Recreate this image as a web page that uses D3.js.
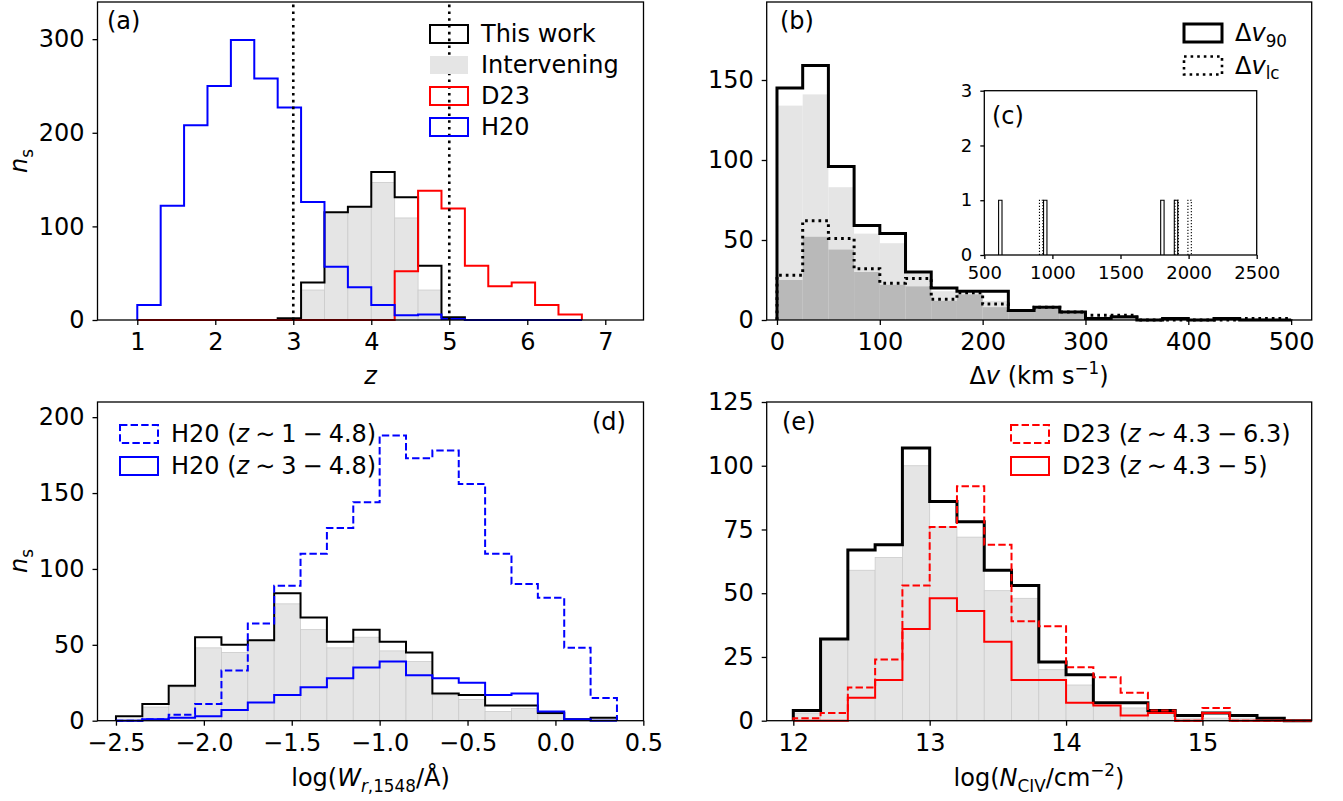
<!DOCTYPE html>
<html>
<head>
<meta charset="utf-8">
<script src="https://cdn.jsdelivr.net/npm/d3@7"></script>
<style>
  body { margin: 0; background: #fff; }
  svg text { font-family: "DejaVu Sans", sans-serif; fill: #000; }
</style>
</head>
<body>
<svg id="fig" width="1343" height="801"></svg>
<script>
// ---- (a) redshift distributions ----
const zEdges = [1.0, 1.3, 1.6, 1.9, 2.2, 2.5, 2.8, 3.1, 3.4, 3.7, 4.0, 4.3, 4.6, 4.9, 5.2, 5.5, 5.8, 6.1, 6.4, 6.7];
const zThisWork = [0, 0, 0, 0, 0, 0, 2, 40, 115, 121, 158, 131, 58, 3, 0, 0, 0, 0, 0];
const zInterv   = [0, 0, 0, 0, 0, 0, 1, 32, 115, 121, 147, 109, 32, 1, 0, 0, 0, 0, 0];
const zD23      = [0, 0, 0, 0, 0, 0, 0, 0, 0, 0, 0, 52, 138, 119, 58, 36, 40, 16, 6];
const zH20      = [16, 122, 208, 250, 299, 258, 227, 126, 57, 35, 16, 5, 6, 1, 0, 0, 0, 0, 0];
const zCuts = [3, 5];

// ---- (b) velocity widths ----
const dvEdges = [0, 25, 50, 75, 100, 125, 150, 175, 200, 225, 250, 275, 300, 325, 350, 375, 400, 425, 450, 475, 500];
const dv90      = [145, 159, 96, 59, 54, 30, 20, 18, 18, 6, 8, 5, 1, 2, 0, 1, 0, 1, 0, 0];
const dvLc      = [28, 62, 51, 32, 23, 26, 13, 17, 10, 6, 8, 5, 3, 3, 0, 0, 0, 0, 1, 1];
const dv90Int   = [134, 141, 83, 54, 48, 29, 18, 17, 12, 5, 7, 4, 1, 1, 0, 1, 0, 1, 0, 0];
const dvLcInt   = [25, 52, 44, 30, 22, 21, 12, 16, 8, 5, 7, 4, 2, 2, 0, 0, 0, 0, 1, 0];

// ---- (c) inset, wide systems (left bin edges, width 25) ----
const insetBinWidth = 25;
const inset90Left = [605, 935, 1795, 1895];
const inset90Count = [1, 1, 1, 1];
const insetLcLeft = [905, 1900, 1995];
const insetLcCount = [1, 1, 1];

// ---- (d) equivalent widths ----
const wEdges = [-2.5, -2.35, -2.2, -2.05, -1.9, -1.75, -1.6, -1.45, -1.3, -1.15, -1.0, -0.85, -0.7, -0.55, -0.4, -0.25, -0.1, 0.05, 0.2, 0.35];
const wThisWork = [3, 11, 23, 55, 50, 53, 84, 68, 52, 60, 52, 45, 18, 17, 10, 10, 5, 1, 2];
const wInterv   = [1, 9, 22, 48, 45, 53, 77, 60, 48, 55, 46, 39, 17, 14, 6, 8, 4, 1, 1];
const wH20all   = [0, 1, 4, 11, 33, 64, 89, 110, 127, 144, 188, 173, 178, 156, 110, 90, 81, 48, 15];
const wH20hi    = [0, 1, 2, 3, 7, 12, 17, 22, 28, 35, 39, 30, 28, 25, 17, 18, 6, 1, 0];

// ---- (e) column densities ----
const nEdges = [12.0, 12.2, 12.4, 12.6, 12.8, 13.0, 13.2, 13.4, 13.6, 13.8, 14.0, 14.2, 14.4, 14.6, 14.8, 15.0, 15.2, 15.4, 15.6, 15.8];
const nThisWork = [4, 32, 67, 69, 107, 86, 78, 59, 53, 23, 18, 7, 7, 4, 2, 3, 2, 1, 0];
const nInterv   = [3, 32, 59, 64, 100, 76, 72, 51, 48, 20, 14, 6, 5, 3, 1, 1, 1, 0, 0];
const nD23all   = [1, 3, 13, 24, 53, 76, 92, 69, 39, 37, 21, 17, 11, 4, 0, 5, 0, 0, 0];
const nD23lo    = [0, 0, 9, 16, 36, 48, 43, 31, 16, 16, 7, 6, 2, 3, 0, 3, 0, 0, 0];

// ---- tick values ----
const ticksAx = [1, 2, 3, 4, 5, 6, 7], ticksAy = [0, 100, 200, 300];
const ticksBx = [0, 100, 200, 300, 400, 500], ticksBy = [0, 50, 100, 150];
const ticksCx = [500, 1000, 1500, 2000, 2500], ticksCy = [0, 1, 2, 3];
const ticksDx = [-2.5, -2.0, -1.5, -1.0, -0.5, 0.0, 0.5], ticksDy = [0, 50, 100, 150, 200];
const ticksEx = [12, 13, 14, 15], ticksEy = [0, 25, 50, 75, 100, 125];

const BLUE = "#0000ff", RED = "#ff0000", LGRAY = "#e5e5e5", DGRAY = "#b9b9b9";
const FS = 24;
const SP = "\u2005"; // narrow math spacing
const svg = d3.select("#fig");

function panel(box, xDom, yDom) {
    const x = d3.scaleLinear().domain(xDom).range([box.l, box.r]);
    const y = d3.scaleLinear().domain(yDom).range([box.b, box.t]);
    const g = svg.append("g");
    return { g, x, y, box };
}

function stepPath(p, edges, vals) {
    const pts = [[edges[0], 0]];
    vals.forEach((v, i) => { pts.push([edges[i], v]); pts.push([edges[i + 1], v]); });
    pts.push([edges[edges.length - 1], 0]);
    return d3.line().x(d => p.x(d[0])).y(d => p.y(d[1]))(pts);
}

function step(p, edges, vals, color, width, dash) {
    p.g.append("path")
        .attr("d", stepPath(p, edges, vals))
        .attr("fill", "none")
        .attr("stroke", color)
        .attr("stroke-width", width)
        .attr("stroke-linejoin", "miter")
        .attr("stroke-dasharray", dash || null);
}

function bars(p, edges, vals, fill, edgeColor) {
    p.g.append("g").selectAll("rect")
        .data(vals.map((v, i) => ({ v, lo: edges[i], hi: edges[i + 1] })).filter(d => d.v > 0))
        .enter().append("rect")
        .attr("x", d => p.x(d.lo))
        .attr("width", d => p.x(d.hi) - p.x(d.lo))
        .attr("y", d => p.y(d.v))
        .attr("height", d => p.y(0) - p.y(d.v))
        .attr("fill", fill)
        .attr("stroke", edgeColor || "none")
        .attr("stroke-width", 0.8);
}

function axes(p, xt, yt, fmtX, fmtY, fs, tick, pad) {
    p.g.append("rect")
        .attr("x", p.box.l).attr("y", p.box.t)
        .attr("width", p.box.r - p.box.l).attr("height", p.box.b - p.box.t)
        .attr("fill", "none").attr("stroke", "#000").attr("stroke-width", 1.3);
    const ax = p.g.append("g").attr("transform", `translate(0,${p.box.b})`)
        .call(d3.axisBottom(p.x).tickValues(xt).tickFormat(fmtX).tickSize(tick).tickPadding(pad));
    const ay = p.g.append("g").attr("transform", `translate(${p.box.l},0)`)
        .call(d3.axisLeft(p.y).tickValues(yt).tickFormat(fmtY).tickSize(tick).tickPadding(pad));
    [ax, ay].forEach(a => {
        a.attr("font-size", fs).attr("font-family", "DejaVu Sans");
        a.select(".domain").remove();
        a.selectAll(".tick line").attr("stroke", "#000").attr("stroke-width", 1.3);
        a.selectAll(".tick text").attr("fill", "#000");
    });
    return { ax, ay };
}

// text with italic / sub / sup pieces
function rich(sel, parts, fs) {
    let shift = 0;
    parts.forEach(q => {
        let target = 0, size = fs;
        if (q.sub) { target = fs * 0.24; size = fs * 0.7; }
        if (q.sup) { target = -fs * 0.4; size = fs * 0.7; }
        const s = sel.append("tspan").text(q.t)
            .attr("dy", target - shift)
            .attr("font-size", size);
        if (q.i) s.attr("font-style", "italic");
        shift = target;
    });
    return sel;
}

function label(x, y, parts, opts = {}) {
    const t = svg.append("text")
        .attr("x", x).attr("y", y)
        .attr("font-size", FS)
        .attr("text-anchor", opts.anchor || "start");
    if (opts.rotate) t.attr("transform", `rotate(-90,${x},${y})`);
    return rich(t, parts, FS);
}

function legend(x0, y0, gap, entries) {
    const g = svg.append("g");
    entries.forEach((e, i) => {
        const y = y0 + i * gap;
        g.append("rect")
            .attr("x", x0).attr("y", y).attr("width", 38).attr("height", 18)
            .attr("fill", e.fill || "none")
            .attr("stroke", e.stroke || "none")
            .attr("stroke-width", e.width || 0)
            .attr("stroke-dasharray", e.dash || null);
        const t = g.append("text")
            .attr("x", x0 + 51).attr("y", y + 17)
            .attr("font-size", FS);
        rich(t, e.text, FS);
    });
}

const fmtInt = d3.format("d");

// ================= (a) =================
const pA = panel({ l: 97.5, r: 643.5, t: 2, b: 320 }, [0.49, 7.49], [0, 339.7]);
bars(pA, zEdges, zInterv, LGRAY, "#cbcbcb");
step(pA, zEdges, zThisWork, "#000", 2);
step(pA, zEdges, zD23, RED, 2);
step(pA, zEdges, zH20, BLUE, 2);
pA.g.selectAll(".cut").data(zCuts).enter().append("line")
    .attr("x1", d => pA.x(d)).attr("x2", d => pA.x(d))
    .attr("y1", pA.y(0)).attr("y2", pA.box.t)
    .attr("stroke", "#000").attr("stroke-width", 2.6).attr("stroke-dasharray", "2.6,4.2");
axes(pA, ticksAx, ticksAy, fmtInt, fmtInt, FS, 5, 8);
label(107, 29, [{ t: "(a)" }]);
legend(430, 25, 31, [
    { stroke: "#000", width: 2, text: [{ t: "This work" }] },
    { fill: LGRAY, text: [{ t: "Intervening" }] },
    { stroke: RED, width: 2, text: [{ t: "D23" }] },
    { stroke: BLUE, width: 2, text: [{ t: "H20" }] }
]);
label(370.5, 384, [{ t: "z", i: 1 }], { anchor: "middle" });
label(27, 161, [{ t: "n", i: 1 }, { t: "s", sub: 1 }], { anchor: "middle", rotate: 1 });

// ================= (b) =================
const pB = panel({ l: 766.7, r: 1311.7, t: 2, b: 320 }, [-10, 520], [0, 198.75]);
bars(pB, dvEdges, dv90Int, LGRAY);
bars(pB, dvEdges, dvLcInt, DGRAY);
step(pB, dvEdges, dvLc, "#000", 3, "2.7,4");
step(pB, dvEdges, dv90, "#000", 3);
axes(pB, ticksBx, ticksBy, fmtInt, fmtInt, FS, 5, 8);
label(780, 29, [{ t: "(b)" }]);
legend(1184, 24, 32.5, [
    { stroke: "#000", width: 3, text: [{ t: "Δ" }, { t: "v", i: 1 }, { t: "90", sub: 1 }] },
    { stroke: "#000", width: 2.6, dash: "2.6,4", text: [{ t: "Δ" }, { t: "v", i: 1 }, { t: "lc", sub: 1 }] }
]);
label(1039, 384, [{ t: "Δ" }, { t: "v", i: 1 }, { t: " (km s" }, { t: "−1", sup: 1 }, { t: ")" }], { anchor: "middle" });

// ================= (c) inset =================
const boxC = { l: 984.3, r: 1256.7, t: 90.7, b: 255 };
svg.append("rect").attr("x", boxC.l).attr("y", boxC.t)
    .attr("width", boxC.r - boxC.l).attr("height", boxC.b - boxC.t).attr("fill", "#fff");
const pC = panel(boxC, [500, 2500], [0, 3]);
function insetBars(lefts, counts, dash) {
    pC.g.append("g").selectAll("path")
        .data(lefts.map((lo, i) => ({ lo, hi: lo + insetBinWidth, v: counts[i] })))
        .enter().append("path")
        .attr("d", d => stepPath(pC, [d.lo, d.hi], [d.v]))
        .attr("fill", "none").attr("stroke", "#000").attr("stroke-width", 1.1)
        .attr("stroke-dasharray", dash || null);
}
insetBars(inset90Left, inset90Count);
insetBars(insetLcLeft, insetLcCount, "1.2,1.8");
const axC = axes(pC, ticksCx, ticksCy, fmtInt, fmtInt, 18, 4, 7);
axC.ay.selectAll(".tick text").attr("dx", -1);
label(992, 124, [{ t: "(c)" }]);

// ================= (d) =================
const pD = panel({ l: 97.5, r: 643.5, t: 402, b: 720.7 }, [-2.605, 0.501], [0, 210]);
bars(pD, wEdges, wInterv, LGRAY, "#cbcbcb");
step(pD, wEdges, wThisWork, "#000", 2);
step(pD, wEdges, wH20hi, BLUE, 2);
step(pD, wEdges, wH20all, BLUE, 2, "7.4,3.2");
axes(pD, ticksDx, ticksDy, d3.format(".1f"), fmtInt, FS, 5, 8);
label(592, 430, [{ t: "(d)" }]);
legend(120, 425, 32, [
    { stroke: BLUE, width: 2, dash: "7.4,3.2", text: [{ t: "H20 (" }, { t: "z", i: 1 }, { t: SP + "∼" + SP + "1" + SP + "−" + SP + "4.8)" }] },
    { stroke: BLUE, width: 2, text: [{ t: "H20 (" }, { t: "z", i: 1 }, { t: SP + "∼" + SP + "3" + SP + "−" + SP + "4.8)" }] }
]);
label(370.5, 786, [{ t: "log(" }, { t: "W", i: 1 }, { t: "r", i: 1, sub: 1 }, { t: ",1548", sub: 1 }, { t: "/Å)" }], { anchor: "middle" });
label(27, 561, [{ t: "n", i: 1 }, { t: "s", sub: 1 }], { anchor: "middle", rotate: 1 });

// ================= (e) =================
const pE = panel({ l: 766.7, r: 1311.7, t: 402, b: 720.7 }, [11.805, 15.801], [0, 125]);
bars(pE, nEdges, nInterv, LGRAY, "#cbcbcb");
step(pE, nEdges, nThisWork, "#000", 3);
step(pE, nEdges, nD23all, RED, 2, "7.4,3.2");
step(pE, nEdges, nD23lo, RED, 2);
axes(pE, ticksEx, ticksEy, fmtInt, fmtInt, FS, 5, 8);
label(782, 430, [{ t: "(e)" }]);
legend(1011, 425, 32, [
    { stroke: RED, width: 2, dash: "7.4,3.2", text: [{ t: "D23 (" }, { t: "z", i: 1 }, { t: SP + "∼" + SP + "4.3" + SP + "−" + SP + "6.3)" }] },
    { stroke: RED, width: 2, text: [{ t: "D23 (" }, { t: "z", i: 1 }, { t: SP + "∼" + SP + "4.3" + SP + "−" + SP + "5)" }] }
]);
label(1039, 786, [{ t: "log(" }, { t: "N", i: 1 }, { t: "CIV", sub: 1 }, { t: "/cm" }, { t: "−2", sup: 1 }, { t: ")" }], { anchor: "middle" });
</script>
</body>
</html>
